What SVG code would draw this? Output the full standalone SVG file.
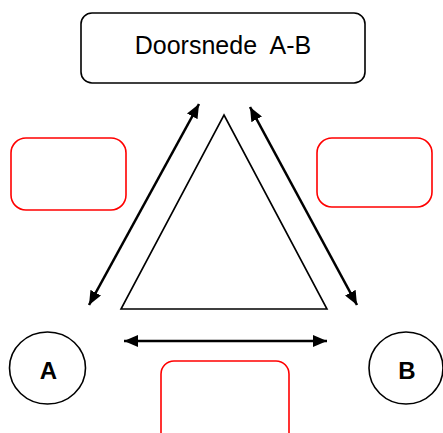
<svg xmlns="http://www.w3.org/2000/svg" width="443" height="433" viewBox="0 0 443 433">
<style>
.box{fill:#fff;stroke:#000;stroke-width:1.6}
.red{fill:#fff;stroke:#ff0000;stroke-width:1.6}
.conn{stroke:#000;stroke-width:2.6;fill:none}
.t{font-family:"Liberation Sans",Arial,sans-serif;fill:#000}
</style>
<defs>
<marker id="ah" viewBox="0 0 14 12" refX="14" refY="6" markerWidth="14" markerHeight="12" markerUnits="userSpaceOnUse" orient="auto-start-reverse">
<path d="M0,0 L14,6 L0,12 Z" fill="#000"/>
</marker>
</defs>
<rect width="443" height="433" fill="#fff"/>
<g id="title">
<rect class="box" x="81" y="13" width="284" height="70" rx="11"/>
<text class="t" x="223" y="54" font-size="25" text-anchor="middle" xml:space="preserve">Doorsnede  A-B</text>
</g>
<g id="triangle">
<polygon class="box" points="224,115 327,309 121,309"/>
</g>
<g id="redLeft"><rect class="red" x="11" y="138" width="115" height="72" rx="15"/></g>
<g id="redRight"><rect class="red" x="317" y="138" width="115" height="69" rx="15"/></g>
<g id="redBottom"><rect class="red" x="161" y="361" width="128" height="90" rx="13"/></g>
<g id="nodeA">
<ellipse class="box" cx="47.5" cy="368" rx="38" ry="36"/>
<text class="t" x="48.5" y="379" font-size="24" font-weight="bold" text-anchor="middle">A</text>
</g>
<g id="nodeB">
<ellipse class="box" cx="406" cy="368" rx="37" ry="36"/>
<text class="t" x="407" y="379" font-size="24" font-weight="bold" text-anchor="middle">B</text>
</g>
<g id="connectors">
<line class="conn" x1="89" y1="305" x2="199" y2="104" marker-start="url(#ah)" marker-end="url(#ah)"/>
<line class="conn" x1="357" y1="305" x2="250" y2="107" marker-start="url(#ah)" marker-end="url(#ah)"/>
<line class="conn" x1="124" y1="341" x2="327" y2="341" marker-start="url(#ah)" marker-end="url(#ah)"/>
</g>
</svg>
